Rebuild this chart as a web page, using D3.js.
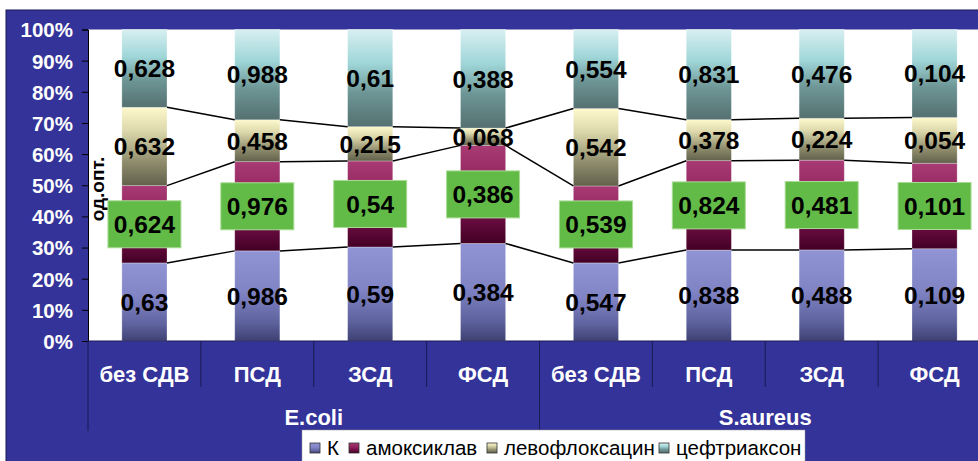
<!DOCTYPE html>
<html>
<head>
<meta charset="utf-8">
<script src="https://cdn.jsdelivr.net/npm/d3@7"></script>
<style>
  html, body { margin: 0; padding: 0; background: #ffffff; }
  svg { display: block; font-family: Arial, "Liberation Sans", sans-serif; }
</style>
</head>
<body>
<svg id="chart" width="978" height="461"></svg>
<script>
// ---------------- data ----------------
const categories = ["без СДВ", "ПСД", "ЗСД", "ФСД", "без СДВ", "ПСД", "ЗСД", "ФСД"];
const groups = ["E.coli", "S.aureus"];
const groupSizes = [4, 4];
const seriesNames = ["К", "амоксиклав", "левофлоксацин", "цефтриаксон"];
const valuesK     = [0.63, 0.986, 0.59, 0.384, 0.547, 0.838, 0.488, 0.109];
const valuesAmox  = [0.624, 0.976, 0.54, 0.386, 0.539, 0.824, 0.481, 0.101];
const valuesLevo  = [0.632, 0.458, 0.215, 0.068, 0.542, 0.378, 0.224, 0.054];
const valuesCeft  = [0.628, 0.988, 0.61, 0.388, 0.554, 0.831, 0.476, 0.104];
const yTickValues = [0, 0.1, 0.2, 0.3, 0.4, 0.5, 0.6, 0.7, 0.8, 0.9, 1.0];
const yTitle = "од.опт.";

// ---------------- layout ----------------
const W = 978, H = 461;
const plot = { left: 88, right: 991, top: 29.5, bottom: 341 };
const BLUE = "#333399";

const svg = d3.select("#chart");
const defs = svg.append("defs");

const gradStops = [
  [[0, "#9094d4"], [0.45, "#8084c5"], [0.8, "#5d619c"], [1, "#3d4173"]],
  [[0, "#a83a74"], [0.45, "#8e2059"], [0.8, "#620a3b"], [1, "#420024"]],
  [[0, "#fdf9cc"], [0.3, "#dcd8ac"], [0.7, "#8e8c6c"], [1, "#62624c"]],
  [[0, "#d8eff1"], [0.35, "#9fd6d8"], [0.65, "#6e9696"], [1, "#557070"]]
];
gradStops.forEach((stops, i) => {
  const g = defs.append("linearGradient").attr("id", "g" + i)
    .attr("x1", 0).attr("y1", 0).attr("x2", 0).attr("y2", 1);
  stops.forEach(s => g.append("stop").attr("offset", s[0]).attr("stop-color", s[1]));
});

// background
svg.append("rect").attr("x", 6).attr("y", 10).attr("width", W).attr("height", H)
  .attr("fill", BLUE).attr("stroke", "#1b1b55").attr("stroke-width", 1);

// plot area
svg.append("rect").attr("x", plot.left).attr("y", plot.top)
  .attr("width", plot.right - plot.left).attr("height", plot.bottom - plot.top)
  .attr("fill", "#ffffff");

// ---------------- scales ----------------
const idx = categories.map((d, i) => i);
const x = d3.scaleBand().domain(idx).range([plot.left, plot.right]).paddingInner(0).paddingOuter(0);
const y = d3.scaleLinear().domain([0, 1]).range([plot.bottom, plot.top]);
const barW = x.bandwidth() * 0.4;

const seriesValues = [valuesK, valuesAmox, valuesLevo, valuesCeft];
const table = idx.map(i => {
  const row = { i };
  seriesNames.forEach((s, k) => row[s] = seriesValues[k][i]);
  return row;
});
const stack = d3.stack().keys(seriesNames).offset(d3.stackOffsetExpand);
const stacked = stack(table);

// ---------------- bars ----------------
const gBars = svg.append("g");
stacked.forEach((layer, k) => {
  gBars.selectAll(null).data(layer).enter().append("rect")
    .attr("x", (d, i) => x(i) + (x.bandwidth() - barW) / 2)
    .attr("y", d => y(d[1]))
    .attr("width", barW)
    .attr("height", d => y(d[0]) - y(d[1]))
    .attr("fill", "url(#g" + k + ")")
    .attr("stroke", "rgba(255,255,255,0.35)")
    .attr("stroke-width", 0.8);
});

// ---------------- series lines ----------------
const gLines = svg.append("g");
stacked.slice(0, 3).forEach(layer => {
  for (let i = 0; i < layer.length - 1; i++) {
    gLines.append("line")
      .attr("x1", x(i) + (x.bandwidth() + barW) / 2)
      .attr("y1", y(layer[i][1]))
      .attr("x2", x(i + 1) + (x.bandwidth() - barW) / 2)
      .attr("y2", y(layer[i + 1][1]))
      .attr("stroke", "#000").attr("stroke-width", 1.5);
  }
});

// ---------------- axes ----------------
const yAxis = d3.axisLeft(y).tickValues(yTickValues).tickSize(6).tickPadding(9)
  .tickFormat(d => Math.round(d * 100) + "%");
const gy = svg.append("g").attr("transform", `translate(${plot.left},0)`).call(yAxis);
gy.select(".domain").attr("stroke", "#000").attr("stroke-width", 1);
gy.selectAll(".tick line").attr("stroke", "#000");
gy.selectAll(".tick text").attr("fill", "#ffffff").attr("font-size", 20.5)
  .attr("font-weight", "bold").attr("font-family", "Arial, 'Liberation Sans', sans-serif")
  .attr("dy", "0.36em");

// x axis line
svg.append("line").attr("x1", plot.left).attr("x2", plot.right)
  .attr("y1", plot.bottom).attr("y2", plot.bottom).attr("stroke", "#1b1b55").attr("stroke-width", 1);

// category separators
const gSep = svg.append("g");
idx.forEach(i => {
  if (i === 0 || i === 4) return;
  gSep.append("line").attr("x1", x(i)).attr("x2", x(i))
    .attr("y1", plot.bottom).attr("y2", 387).attr("stroke", "#1b1b55").attr("stroke-width", 1);
});
let start = 0;
const groupBounds = [];
groupSizes.forEach(n => { groupBounds.push([start, start + n]); start += n; });
groupBounds.forEach(([a, b]) => {
  gSep.append("line").attr("x1", x(a)).attr("x2", x(a))
    .attr("y1", plot.bottom).attr("y2", 431).attr("stroke", "#1b1b55").attr("stroke-width", 1);
});

// category labels
svg.append("g").selectAll("text").data(categories).enter().append("text")
  .attr("x", (d, i) => x(i) + x.bandwidth() / 2)
  .attr("y", 382)
  .attr("text-anchor", "middle").attr("fill", "#fff")
  .attr("font-size", 22).attr("font-weight", "bold")
  .text(d => d);

// group labels
svg.append("g").selectAll("text").data(groups).enter().append("text")
  .attr("x", (d, gi) => (x(groupBounds[gi][0]) + x(groupBounds[gi][1] - 1) + x.bandwidth()) / 2)
  .attr("y", 425)
  .attr("text-anchor", "middle").attr("fill", "#fff")
  .attr("font-size", 22).attr("font-weight", "bold")
  .text(d => d);

// y title
svg.append("text")
  .attr("transform", `translate(104,189) rotate(-90)`)
  .attr("text-anchor", "middle")
  .attr("font-size", 19).attr("font-weight", "bold").attr("fill", "#000")
  .text(yTitle);

// ---------------- data labels ----------------
const fmt = v => String(v).replace(".", ",");
const gLab = svg.append("g");
stacked.forEach((layer, k) => {
  layer.forEach((d, i) => {
    const cx = x(i) + x.bandwidth() / 2;
    const cy = y((d[0] + d[1]) / 2);
    if (k === 1) {
      gLab.append("rect").attr("x", cx - 36.5).attr("y", cy - 23.5)
        .attr("width", 73).attr("height", 47)
        .attr("fill", "#63bb47").attr("stroke", "#a9dc96").attr("stroke-width", 1);
    }
    gLab.append("text").attr("x", cx).attr("y", cy)
      .attr("dy", "0.36em")
      .attr("text-anchor", "middle")
      .attr("font-size", 24.5).attr("font-weight", "bold").attr("fill", "#000")
      .text(fmt(seriesValues[k][i]));
  });
});

// ---------------- legend ----------------
const legX = [310, 349, 487, 659];
const lg = svg.append("g");
lg.append("rect").attr("x", 302).attr("y", 430).attr("width", 503).attr("height", 40)
  .attr("fill", "#fff").attr("stroke", "#999").attr("stroke-width", 0.5);
seriesNames.forEach((s, k) => {
  lg.append("rect").attr("x", legX[k]).attr("y", 443).attr("width", 10).attr("height", 10)
    .attr("fill", "url(#g" + k + ")").attr("stroke", "#333").attr("stroke-width", 0.8);
  lg.append("text").attr("x", legX[k] + 17).attr("y", 455)
    .attr("font-size", 20.5).attr("fill", "#000").text(s);
});
</script>
</body>
</html>
